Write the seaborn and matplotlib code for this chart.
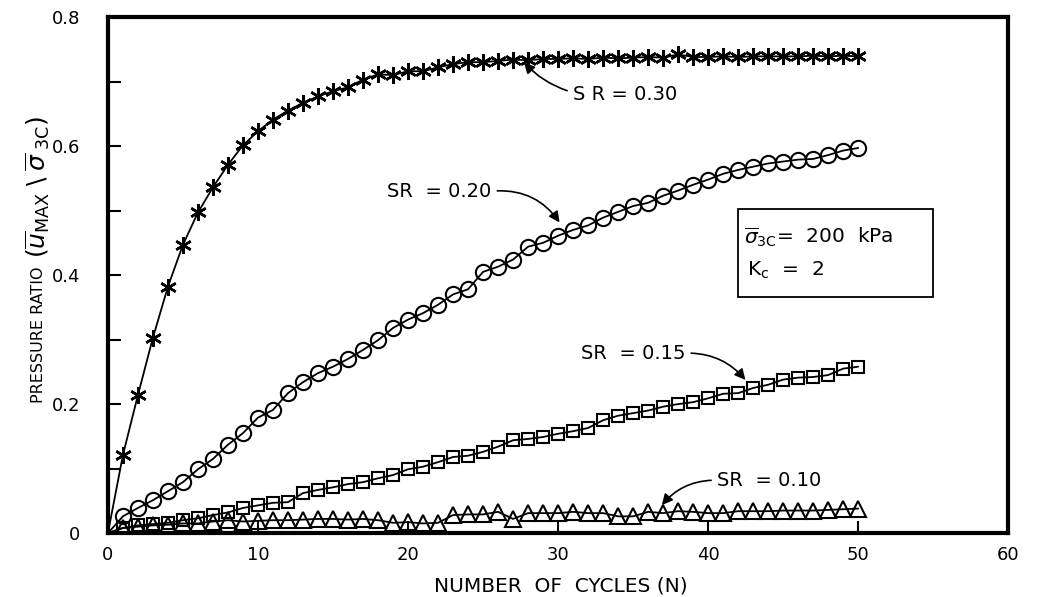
import matplotlib
matplotlib.use("Agg")
import matplotlib.pyplot as plt
import seaborn as sns
import pandas as pd

cycles = list(range(1, 51))

sr30 = [0.121, 0.214, 0.303, 0.382, 0.447, 0.497, 0.536, 0.571, 0.601, 0.623,
        0.641, 0.655, 0.667, 0.677, 0.685, 0.691, 0.703, 0.711, 0.710, 0.716,
        0.716, 0.722, 0.727, 0.730, 0.730, 0.732, 0.734, 0.733, 0.735, 0.735,
        0.736, 0.735, 0.737, 0.736, 0.737, 0.738, 0.737, 0.742, 0.738, 0.738,
        0.739, 0.738, 0.739, 0.739, 0.739, 0.739, 0.740, 0.739, 0.740, 0.739]

sr20 = [0.026, 0.039, 0.051, 0.065, 0.079, 0.099, 0.115, 0.137, 0.155, 0.179,
        0.191, 0.217, 0.234, 0.248, 0.258, 0.270, 0.284, 0.299, 0.318, 0.331,
        0.341, 0.354, 0.370, 0.378, 0.405, 0.413, 0.424, 0.444, 0.450, 0.461,
        0.470, 0.477, 0.489, 0.498, 0.507, 0.512, 0.523, 0.531, 0.540, 0.548,
        0.557, 0.563, 0.568, 0.573, 0.576, 0.579, 0.580, 0.586, 0.593, 0.597]

sr15 = [0.008, 0.012, 0.014, 0.016, 0.020, 0.023, 0.028, 0.032, 0.039, 0.043,
        0.047, 0.048, 0.062, 0.067, 0.071, 0.076, 0.079, 0.085, 0.090, 0.099,
        0.103, 0.110, 0.118, 0.120, 0.126, 0.134, 0.144, 0.146, 0.149, 0.154,
        0.158, 0.163, 0.175, 0.182, 0.186, 0.190, 0.196, 0.200, 0.203, 0.209,
        0.216, 0.217, 0.225, 0.230, 0.238, 0.241, 0.242, 0.245, 0.255, 0.258]

sr10 = [0.008, 0.010, 0.012, 0.013, 0.015, 0.015, 0.018, 0.020, 0.018, 0.019,
        0.020, 0.020, 0.021, 0.022, 0.022, 0.021, 0.022, 0.020, 0.016, 0.017,
        0.015, 0.016, 0.028, 0.029, 0.029, 0.033, 0.022, 0.031, 0.031, 0.031,
        0.033, 0.031, 0.031, 0.026, 0.026, 0.033, 0.031, 0.034, 0.033, 0.031,
        0.031, 0.034, 0.034, 0.034, 0.035, 0.035, 0.035, 0.036, 0.037, 0.038]

x_ticks = [0, 10, 20, 30, 40, 50, 60]
y_ticks = [0, 0.2, 0.4, 0.6, 0.8]
y_tick_labels = ["0", "0.2", "0.4", "0.6", "0.8"]

sns.set_style("ticks")
plt.rcParams["font.family"] = ["DejaVu Sans"]
plt.rcParams.update({"text.color": "black", "axes.labelcolor": "black",
                     "xtick.color": "black", "ytick.color": "black"})

fig = plt.figure(figsize=(10.58, 5.97), dpi=100)
ax = fig.add_axes([0.102, 0.107, 0.851, 0.8645])

series = [
    (sr30, dict(marker=(6, 2, 0), ms=12, mew=1.8, mfc="black")),
    (sr20, dict(marker="o", ms=11, mew=1.5, mfc="none")),
    (sr15, dict(marker="s", ms=8.5, mew=1.5, mfc="none")),
    (sr10, dict(marker="^", ms=12, mew=1.5, mfc="none")),
]

for vals, mk in series:
    line_df = pd.DataFrame({"N": [0] + cycles, "r": [0.0] + vals})
    sns.lineplot(data=line_df, x="N", y="r", ax=ax, color="black", lw=1.3,
                 estimator=None, sort=False)
    pt_df = pd.DataFrame({"N": cycles, "r": vals})
    sns.lineplot(data=pt_df, x="N", y="r", ax=ax, color="black", lw=0,
                 linestyle="", mec="black", estimator=None, sort=False, **mk)

ax.set_xlim(0, 60)
ax.set_ylim(0, 0.8)
ax.set_xticks(x_ticks)
ax.set_xticklabels([str(t) for t in x_ticks], fontsize=13)
ax.set_yticks(y_ticks)
ax.set_yticklabels(y_tick_labels, fontsize=13)
ax.set_yticks([0.1, 0.3, 0.5, 0.7], minor=True)
ax.tick_params(axis="both", which="both", direction="in", length=9, width=1.5,
               colors="black")
ax.tick_params(axis="x", pad=9)
ax.tick_params(axis="y", pad=20)
for s in ax.spines.values():
    s.set_linewidth(3)
    s.set_color("black")

ax.set_xlabel("NUMBER  OF  CYCLES (N)", fontsize=14.5, labelpad=12)
ax.xaxis.set_label_coords(0.503, -0.085)
ax.set_ylabel("")
fig.text(0.036, 0.439, "PRESSURE RATIO", rotation=90,
         fontsize=11.5, ha="center", va="center")
fig.text(0.036, 0.687,
         r"$(\overline{u}_{\mathrm{MAX}}\;\backslash\;\overline{\sigma}_{\;\mathrm{3C}})$",
         rotation=90, fontsize=18, ha="center", va="center")

arrow = dict(arrowstyle="-|>", color="black", lw=1.2, mutation_scale=16)
ax.annotate("S R = 0.30", xy=(27.6, 0.733), xytext=(31.0, 0.680), fontsize=14,
            va="center", ha="left",
            arrowprops=dict(arrow, connectionstyle="arc3,rad=-0.15",
                            relpos=(0.0, 0.6)))
ax.annotate("SR  = 0.20", xy=(30.2, 0.478), xytext=(18.6, 0.530), fontsize=14,
            va="center", ha="left",
            arrowprops=dict(arrow, connectionstyle="arc3,rad=-0.3",
                            relpos=(1.0, 0.5)))
ax.annotate("SR  = 0.15", xy=(42.6, 0.234), xytext=(31.5, 0.279), fontsize=14,
            va="center", ha="left",
            arrowprops=dict(arrow, connectionstyle="arc3,rad=-0.25",
                            relpos=(1.0, 0.5)))
ax.annotate("SR  = 0.10", xy=(36.8, 0.040), xytext=(40.6, 0.082), fontsize=14,
            va="center", ha="left",
            arrowprops=dict(arrow, connectionstyle="arc3,rad=0.25",
                            relpos=(0.0, 0.5)))

ax.text(42.4, 0.458, r"$\overline{\sigma}_{\mathrm{3C}}$=  200  kPa", fontsize=14.5,
        va="center", ha="left")
ax.text(42.6, 0.408, r"K$_{\mathrm{c}}$  =  2", fontsize=14.5, va="center", ha="left")
box = plt.Rectangle((42.0, 0.366), 13.0, 0.137, fill=False, lw=1.3, ec="black")
ax.add_patch(box)

fig.savefig("out.png", dpi=100)
